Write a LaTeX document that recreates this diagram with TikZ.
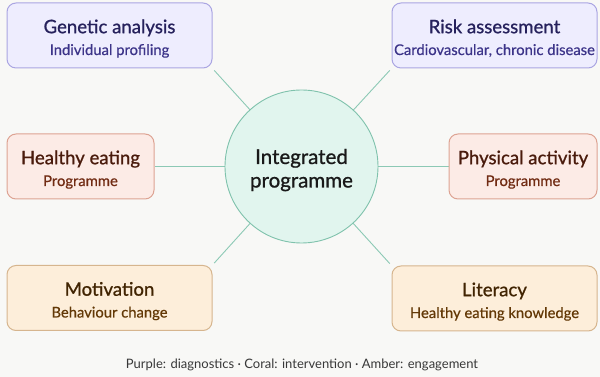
\documentclass[tikz,border=0pt]{standalone}
\usepackage{fontspec}
\setmainfont{Lato}
\newfontfamily\medfont{Lato}[FakeBold=0.9]
\newfontfamily\semifont{Lato}[FakeBold=0.45]
\usetikzlibrary{backgrounds}
\definecolor{bg}{HTML}{F8F8F6}
\definecolor{pfill}{HTML}{EEEDFE}
\definecolor{pline}{HTML}{AAA5E2}
\definecolor{ptitle}{HTML}{26215C}
\definecolor{psub}{HTML}{3C3489}
\definecolor{cfill}{HTML}{FCEBE6}
\definecolor{cline}{HTML}{DDA393}
\definecolor{ctitle}{HTML}{4A1B0C}
\definecolor{csub}{HTML}{712B13}
\definecolor{afill}{HTML}{FDEEDA}
\definecolor{aline}{HTML}{D6B58E}
\definecolor{atitle}{HTML}{412402}
\definecolor{asub}{HTML}{633806}
\definecolor{tfill}{HTML}{E1F5EE}
\definecolor{tline}{HTML}{7FC2AC}
\definecolor{conncol}{HTML}{8CC9B5}
\tikzset{
  x=1pt,y=1pt,
  card/.style={draw, line width=1pt, rounded corners=9pt, minimum height=65pt, inner sep=0pt},
  pcard/.style={card, fill=pfill, draw=pline},
  ccard/.style={card, fill=cfill, draw=cline},
  acard/.style={card, fill=afill, draw=aline},
  ttl/.style={anchor=base, inner sep=0pt, font=\medfont\fontsize{18.6}{20}\selectfont},
  sub/.style={anchor=base, inner sep=0pt, font=\semifont\fontsize{14.8}{17}\selectfont},
  hub/.style={circle, draw=tline, fill=tfill, line width=0.9pt, minimum size=153pt, inner sep=0pt},
  hubtext/.style={anchor=base, inner sep=0pt, font=\medfont\fontsize{20.5}{24}\selectfont, text=black!90},
  conn/.style={draw=conncol, line width=0.9pt},
}
\begin{document}
\begin{tikzpicture}
\useasboundingbox (0,0) rectangle (600,377);
% hub
\node[hub] (c) at (301.5,210.5) {};
\node[hubtext] (c1) at (301.5,213) {Integrated};
\node[hubtext] (c2) at (301.5,189.5) {programme};
% cards
\node[pcard, minimum width=205pt] (g) at (109.5,341.5) {};
\node[ttl, text=ptitle] (gt) at ([yshift=2.3pt]g.center) {Genetic analysis};
\node[sub, text=psub] (gs) at ([yshift=-19.5pt]g.center) {Individual profiling};
\node[pcard, minimum width=205pt] (r) at (494.5,341.5) {};
\node[ttl, text=ptitle] (rt) at ([yshift=2.3pt]r.center) {Risk assessment};
\node[sub, text=psub] (rs) at ([yshift=-19.5pt]r.center) {Cardiovascular, chronic disease};
\node[ccard, minimum width=147pt] (h) at (80.5,210.5) {};
\node[ttl, text=ctitle] (ht) at ([yshift=2.3pt]h.center) {Healthy eating};
\node[sub, text=csub] (hs) at ([yshift=-19.5pt]h.center) {Programme};
\node[ccard, minimum width=148pt] (p) at (523,210.5) {};
\node[ttl, text=ctitle] (pt) at ([yshift=2.3pt]p.center) {Physical activity};
\node[sub, text=csub] (ps) at ([yshift=-19.5pt]p.center) {Programme};
\node[acard, minimum width=205pt] (m) at (109.5,79) {};
\node[ttl, text=atitle] (mt) at ([yshift=2.3pt]m.center) {Motivation};
\node[sub, text=asub] (ms) at ([yshift=-19.5pt]m.center) {Behaviour change};
\node[acard, minimum width=205pt] (l) at (494.5,78.5) {};
\node[ttl, text=atitle] (lt) at ([yshift=2.3pt]l.center) {Literacy};
\node[sub, text=asub] (ls) at ([yshift=-19.5pt]l.center) {Healthy eating knowledge};
% background and connectors
\begin{scope}[on background layer]
\fill[bg] (0,0) rectangle (600,377);
\draw[conn, shorten >=2.5pt] (c.center) -- (g.south east);
\draw[conn, shorten >=2.5pt] (c.center) -- (r.south west);
\draw[conn] (c.center) -- (h.east);
\draw[conn] (c.center) -- (p.west);
\draw[conn, shorten >=2.5pt] (c.center) -- (m.north east);
\draw[conn, shorten >=2.5pt] (c.center) -- (l.north west);
\end{scope}
% footer
\node[anchor=base, inner sep=0pt, font=\fontsize{13}{15}\selectfont, text=black!78] (foot) at (302,8.7) {Purple: diagnostics · Coral: intervention · Amber: engagement};
\end{tikzpicture}
\end{document}
